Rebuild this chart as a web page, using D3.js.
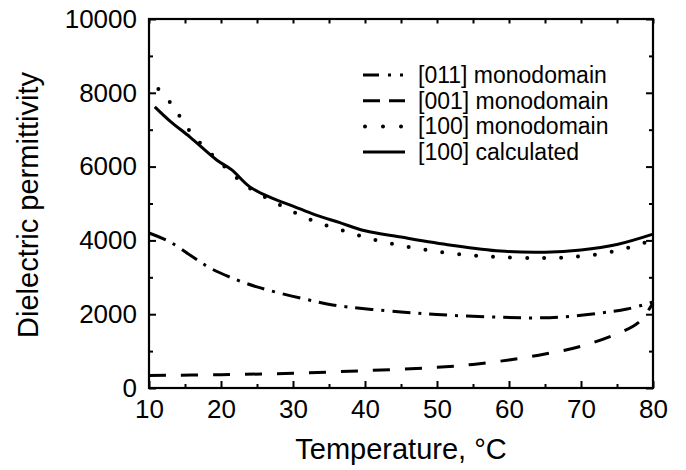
<!DOCTYPE html>
<html>
<head>
<meta charset="utf-8">
<script src="https://cdn.jsdelivr.net/npm/d3@7"></script>
<style>
  body { margin: 0; background: #fff; }
</style>
</head>
<body>
<div class="graph"></div>
<script>
const tempCalc = [10.8, 13, 15.7, 19.4, 21.5, 24, 27, 30, 33, 36.5, 40, 45, 52, 58.8, 65, 70, 75, 80]
const calc100 = [7620, 7220, 6800, 6180, 5910, 5450, 5150, 4930, 4700, 4480, 4260, 4090, 3870, 3710, 3680, 3740, 3890, 4170]

const tempMono100 = [11.3, 13.1, 16, 19.7, 23.6, 28.2, 32.6, 37.5, 42.5, 47.6, 52.9, 58.5, 65, 70, 75, 80]
const mono100 = [8100, 7700, 6880, 6150, 5470, 4960, 4550, 4230, 3960, 3770, 3630, 3550, 3520, 3570, 3720, 4010]

const tempMono011 = [10, 12.9, 16.1, 18.5, 22.2, 25, 28.2, 31.9, 35.5, 45, 52, 58.8, 63, 67, 72.6, 76.4, 80]
const mono011 = [4200, 3960, 3550, 3250, 2930, 2740, 2570, 2400, 2250, 2060, 1970, 1920, 1900, 1920, 2030, 2140, 2330]

const tempMono001 = [10, 20, 30, 40, 50, 55, 60, 65, 70, 75, 78, 80]
const mono001 = [340, 360, 400, 470, 560, 640, 760, 920, 1130, 1470, 1780, 2300]

const xTicks = [10, 20, 30, 40, 50, 60, 70, 80]
const yTicks = [0, 2000, 4000, 6000, 8000, 10000]

const legendLabels = ["[011] monodomain", "[001] monodomain", "[100] monodomain", "[100] calculated"]

const width = 686, height = 470
const margin = {top: 19, right: 33, bottom: 82, left: 149}

const svg = d3.select(".graph").append("svg")
    .attr("width", width)
    .attr("height", height)
    .style("font-family", "'Liberation Sans', Arial, sans-serif")

svg.append("rect")
    .attr("width", "100%")
    .attr("height", "100%")
    .style("fill", "#fff")

const scaleX = d3.scaleLinear()
    .domain([10, 80])
    .range([margin.left, width - margin.right])

const scaleY = d3.scaleLinear()
    .domain([0, 10000])
    .range([height - margin.bottom, margin.top])

const minorX = d3.range(15, 80, 10)
const minorY = d3.range(1000, 10000, 2000)

// ticks, all pointing inside
const axBottom = svg.append("g")
    .attr("transform", `translate(0, ${height - margin.bottom})`)
axBottom.call(d3.axisBottom(scaleX).tickValues(xTicks).tickSize(-7).tickPadding(12).tickSizeOuter(0))
axBottom.append("g").call(d3.axisBottom(scaleX).tickValues(minorX).tickSize(-4).tickFormat(""))

const axLeft = svg.append("g")
    .attr("transform", `translate(${margin.left}, 0)`)
axLeft.call(d3.axisLeft(scaleY).tickValues(yTicks).tickFormat(d3.format("d")).tickSize(-7).tickPadding(12).tickSizeOuter(0))
axLeft.append("g").call(d3.axisLeft(scaleY).tickValues(minorY).tickSize(-4).tickFormat(""))

const axTop = svg.append("g")
    .attr("transform", `translate(0, ${margin.top})`)
axTop.call(d3.axisTop(scaleX).tickValues(xTicks.concat(minorX)).tickSize(-4.5).tickFormat("").tickSizeOuter(0))

const axRight = svg.append("g")
    .attr("transform", `translate(${width - margin.right}, 0)`)
axRight.call(d3.axisRight(scaleY).tickValues(yTicks).tickSize(-7).tickFormat("").tickSizeOuter(0))
axRight.append("g").call(d3.axisRight(scaleY).tickValues(minorY).tickSize(-4).tickFormat(""))

svg.selectAll(".domain").remove()
svg.selectAll(".tick line").attr("stroke", "#000").attr("stroke-width", 2)
svg.selectAll(".tick text")
    .attr("fill", "#000")
    .style("font-size", "26px")

// frame
svg.append("rect")
    .attr("x", margin.left)
    .attr("y", margin.top)
    .attr("width", width - margin.left - margin.right)
    .attr("height", height - margin.top - margin.bottom)
    .attr("fill", "none")
    .attr("stroke", "#000")
    .attr("stroke-width", 2.2)

const series = [
    {t: tempMono011, v: mono011, dash: "18 8 3 8", legendDash: "16 9 3 9 3 9", cap: "butt", w: 3},
    {t: tempMono001, v: mono001, dash: "17 15", legendDash: "17 9", cap: "butt", w: 3},
    {t: tempMono100, v: mono100, dash: "0 17", legendDash: "0 18", cap: "round", w: 4},
    {t: tempCalc, v: calc100, dash: null, legendDash: null, cap: "butt", w: 3}
]

const line = d3.line()
    .x(d => scaleX(d[0]))
    .y(d => scaleY(d[1]))
    .curve(d3.curveCatmullRom)

svg.append("g")
    .selectAll("path")
    .data(series)
    .join("path")
    .attr("d", s => line(s.t.map((t, i) => [t, s.v[i]])))
    .attr("fill", "none")
    .attr("stroke", "#000")
    .attr("stroke-width", s => s.w)
    .attr("stroke-linecap", s => s.cap)
    .attr("stroke-dasharray", s => s.dash)

// legend
const legend = svg.append("g")
    .selectAll("g")
    .data(series)
    .join("g")
    .attr("transform", (d, i) => `translate(363, ${75 + i * 25.7})`)

legend.append("line")
    .attr("x1", s => s.cap == "round" ? 2 : 0)
    .attr("x2", 42)
    .attr("stroke", "#000")
    .attr("stroke-width", s => s.w)
    .attr("stroke-linecap", s => s.cap)
    .attr("stroke-dasharray", s => s.legendDash)

legend.append("text")
    .attr("x", 55)
    .attr("dy", "0.35em")
    .style("font-size", "23px")
    .text((d, i) => legendLabels[i])

// axis titles
svg.append("text")
    .attr("x", (margin.left + width - margin.right) / 2)
    .attr("y", 459)
    .attr("text-anchor", "middle")
    .style("font-size", "29px")
    .text("Temperature, °C")

svg.append("text")
    .attr("transform", `translate(38, 205) rotate(-90)`)
    .attr("text-anchor", "middle")
    .style("font-size", "29px")
    .text("Dielectric permittivity")
</script>
</body>
</html>
